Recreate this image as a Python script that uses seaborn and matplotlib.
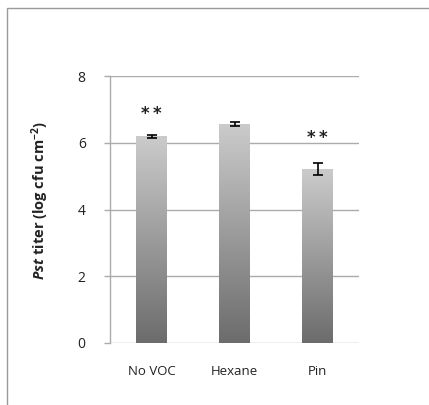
import numpy as np
import pandas as pd
import matplotlib
matplotlib.use("Agg")
import matplotlib.pyplot as plt
import matplotlib.patches as mpatches
from matplotlib.colors import LinearSegmentedColormap
import seaborn as sns

categories = ["No VOC", "Hexane", "Pin"]
titer = [6.19, 6.56, 5.20]
errors = [0.04, 0.065, 0.18]
stars = ["*\u2009*", "", "*\u2009*"]
star_y = [6.85, None, 6.15]
yticks = [0, 2, 4, 6, 8]

sns.set_theme(style="white")
plt.rcParams['font.family'] = ['Open Sans', 'DejaVu Sans']
plt.rcParams['mathtext.fontset'] = 'custom'
plt.rcParams['mathtext.rm'] = 'Open Sans'
plt.rcParams['mathtext.it'] = 'Open Sans:italic'
plt.rcParams['mathtext.bf'] = 'Open Sans:bold'
plt.rcParams['mathtext.bfit'] = 'Open Sans:italic:bold'

df = pd.DataFrame({"cat": categories, "val": titer})

fig = plt.figure(figsize=(4.29, 4.05), dpi=100)
ax = fig.add_axes([110/429, 1 - 343/405, 249/429, 267/405])

sns.barplot(data=df, x="cat", y="val", ax=ax, width=0.373, color="#999999",
            edgecolor="none", errorbar=None, zorder=3)

# gradient fill
grad = np.linspace(0, 1, 256).reshape(-1, 1)
cmap = LinearSegmentedColormap.from_list("g", ["#6c6c6c", "#cbcbcb"])
for p in list(ax.patches):
    x0, y0 = p.get_x(), p.get_y()
    w, h = p.get_width(), p.get_height()
    im = ax.imshow(grad, extent=[x0, x0 + w, y0, y0 + h], origin="lower",
                   cmap=cmap, aspect="auto", zorder=3.5)
    im.set_clip_path(p)

ax.errorbar(range(len(categories)), titer, yerr=errors, fmt="none",
            ecolor="black", elinewidth=1.2, capsize=3.6, capthick=1.2, zorder=5)

for i, (s, yy) in enumerate(zip(stars, star_y)):
    if s:
        ax.text(i, yy, s, ha="center", va="center", fontsize=12,
                family="DejaVu Sans", fontweight="bold", color="#222222")

ax.set_xlim(-0.5, 2.5)
ax.set_ylim(0, 8)
ax.set_yticks(yticks)
ax.set_yticklabels([str(t) for t in yticks], fontsize=10)
ax.yaxis.grid(True, color="#ababab", linewidth=1.0, zorder=0)
ax.set_axisbelow(True)
for s in ["top", "right", "bottom"]:
    ax.spines[s].set_visible(False)
ax.spines["left"].set_color("#ababab")
ax.spines["left"].set_linewidth(1.0)
ax.tick_params(axis="y", length=4.5, width=1.0, color="#ababab", pad=13, left=True,
               labelcolor="#222222")
ax.tick_params(axis="x", length=0, pad=16, labelsize=9.5, labelcolor="#222222")
ax.set_xlabel("")
ax.set_ylabel(r"$\mathbfit{Pst}$ titer (log cfu cm$^{\mathbf{-2}}$)", fontsize=10.5,
              fontweight="bold", color="#222222")
ax.yaxis.set_label_coords(-0.235, 0.535)

# frame border
fig.add_artist(mpatches.Rectangle((7/429, -0.2), 2, (405 - 8)/405 + 0.2,
                                  transform=fig.transFigure, fill=False,
                                  edgecolor="#9a9a9a", linewidth=1.0))

fig.savefig("out.png", dpi=100)
